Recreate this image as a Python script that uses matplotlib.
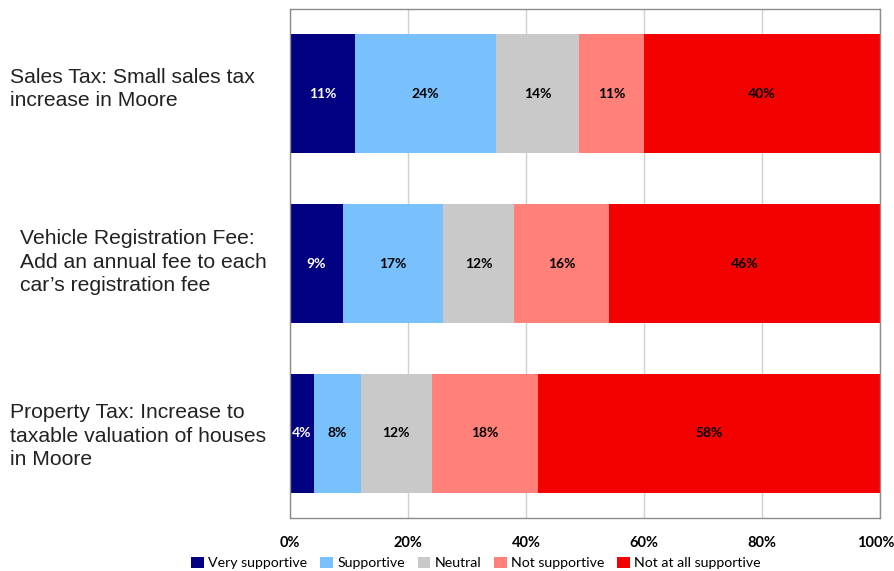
import matplotlib.pyplot as plt
import matplotlib.transforms as mtransforms
import numpy as np

# survey results, percent of respondents
measures = ["Sales Tax: Small sales tax\nincrease in Moore",
            "Vehicle Registration Fee:\nAdd an annual fee to each\ncar\u2019s registration fee",
            "Property Tax: Increase to\ntaxable valuation of houses\nin Moore"]
responses = ["Very supportive", "Supportive", "Neutral", "Not supportive", "Not at all supportive"]
very_supportive = [11, 9, 4]
supportive = [24, 17, 8]
neutral = [14, 12, 12]
not_supportive = [11, 16, 18]
not_at_all = [40, 46, 58]

colors = ["#000080", "#78C1FD", "#C9C9C9", "#FF8179", "#F30000"]
text_colors = ["white", "black", "black", "black", "black"]

W, H = 895, 571
fig = plt.figure(figsize=(W / 100, H / 100), dpi=100)
ax = fig.add_axes([290 / W, 1 - 518 / H, 590 / W, 509 / H])

series = [very_supportive, supportive, neutral, not_supportive, not_at_all]
ypos = np.arange(len(measures))[::-1]
left = np.zeros(len(measures))
for vals, col, tc, name in zip(series, colors, text_colors, responses):
    vals = np.array(vals, dtype=float)
    ax.barh(ypos, vals, left=left, height=0.7, color=col, label=name, zorder=2)
    for y, l, v in zip(ypos, left, vals):
        ax.text(l + v / 2, y, f"{int(v)}%", ha="center", va="center",
                fontsize=10, fontweight="bold", color=tc, family="Lato", zorder=3)
    left += vals

ax.set_xlim(0, 100)
ax.set_ylim(-0.5, 2.5)
ax.set_xticks(np.arange(0, 101, 20))
ax.set_xticklabels([f"{t}%" for t in range(0, 101, 20)], fontweight="bold",
                   fontsize=10.5, family="Lato")
ax.set_yticks([])
ax.tick_params(axis="x", length=0, pad=13)
# keep "100%" inside the figure edge
last = ax.get_xticklabels()[-1]
last.set_transform(last.get_transform() +
                   mtransforms.ScaledTranslation(-4 / 100, 0, fig.dpi_scale_trans))
ax.grid(axis="x", color="#D0D0D0", linewidth=1, zorder=0)
for s in ax.spines.values():
    s.set_color("#8C8C8C")
    s.set_linewidth(1)

# category labels on the left
label_x = [10, 20, 10]
label_y = [89, 262, 436]
for txt, x, y in zip(measures, label_x, label_y):
    fig.text(x / W, 1 - y / H, txt, ha="left", va="center", fontsize=15.2,
             family="Liberation Sans", color="#222222", linespacing=1.33)

fig.legend(loc="center", bbox_to_anchor=(476 / W, 1 - 563 / H), ncol=5,
           frameon=False, handlelength=0.9, handleheight=0.9, handletextpad=0.3,
           columnspacing=0.9, prop={"family": "Lato", "size": 10.2})

fig.savefig("out.png", dpi=100)
